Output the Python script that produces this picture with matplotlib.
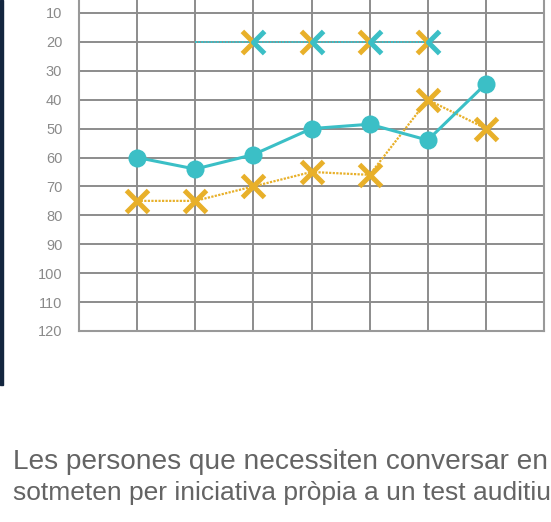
import matplotlib as mpl
mpl.use("Agg")
import matplotlib.pyplot as plt
from matplotlib.path import Path
from matplotlib.markers import MarkerStyle
from matplotlib.patches import Rectangle
from matplotlib import font_manager
import numpy as np

# audiogram data (hearing level in dB, y axis inverted)
freq_idx = [0, 1, 2, 3, 4, 5, 6]
right_ear_db = [60, 64, 59, 50, 48.5, 54, 34.5]          # teal circles
left_ear_db = [75, 75, 70, 65, 66, 40, 50]               # orange crosses
masked_idx = [1, 2, 3, 4, 5]                             # teal dotted line at 20
masked_db = [20, 20, 20, 20, 20]
y_ticks = [10, 20, 30, 40, 50, 60, 70, 80, 90, 100, 110, 120]

line1 = "Les persones que necessiten conversar en"
line2 = "sotmeten per iniciativa pròpia a un test auditiu"

teal = "#3bbfc6"
orange = "#e8b02a"
grid_gray = "#8c8c8c"

fig = plt.figure(figsize=(5.51, 5.22), dpi=100)
ax = fig.add_axes([79/551, 191/522, 465/551, 347/522])

ax.set_xlim(-1, 7)
ax.set_ylim(120, 0)
ax.set_xticks(freq_idx)
ax.set_yticks(y_ticks)
ax.set_xticklabels([])
ax.set_yticklabels([str(t) for t in y_ticks], fontsize=10.5, color="#8a8a8a",
                   family="Liberation Sans")
ax.tick_params(length=0, pad=12)
ax.grid(True, color=grid_gray, linewidth=1.4)
ax.set_axisbelow(True)
for side in ["left", "right", "bottom"]:
    ax.spines[side].set_color("#999999")
    ax.spines[side].set_linewidth(1.5)
ax.spines["top"].set_visible(False)

# orange crosses, dotted
ax.plot(freq_idx, left_ear_db, color=orange, linestyle=(0, (1, 0.6)), linewidth=1.6,
        marker="x", markersize=16, markeredgewidth=3.6, zorder=3)

# masked threshold: teal dotted line with half orange / half teal crosses
ax.plot(masked_idx, masked_db, color=teal, linestyle=(0, (1, 0.6)), linewidth=1.4, zorder=3)
left_half = Path([(-1, 1), (0, 0), (-1, -1)], [Path.MOVETO, Path.LINETO, Path.LINETO])
right_half = Path([(1, 1), (0, 0), (1, -1)], [Path.MOVETO, Path.LINETO, Path.LINETO])
ax.plot(masked_idx[1:], masked_db[1:], linestyle="none",
        marker=MarkerStyle(left_half, fillstyle="none", capstyle="butt", joinstyle="miter"),
        markersize=16, markeredgewidth=3.6, markeredgecolor=orange, zorder=4)
ax.plot(masked_idx[1:], masked_db[1:], linestyle="none",
        marker=MarkerStyle(right_half, fillstyle="none", capstyle="butt", joinstyle="miter"),
        markersize=16, markeredgewidth=3.6, markeredgecolor=teal, zorder=4)

# teal circles, solid
ax.plot(freq_idx, right_ear_db, color=teal, linewidth=2.2, marker="o",
        markersize=13, markeredgewidth=0, zorder=5)

# dark bar on the left edge of the page
fig.patches.append(Rectangle((0, 137/522), 3/551, 1 - 137/522, transform=fig.transFigure,
                             color="#13263f", zorder=0))

names = {f.name for f in font_manager.fontManager.ttflist}
if "Liberation Sans Narrow" in names:
    fam2, size2 = "Liberation Sans Narrow", 22
else:
    fam2, size2 = "Liberation Sans", 19.0

fig.text(13/551, 53/522, line1, fontsize=20.2, color="#646464", family="Liberation Sans")
fig.text(13/551, 22/522, line2, fontsize=size2, color="#646464", family=fam2)

fig.savefig("out.png", dpi=100)
